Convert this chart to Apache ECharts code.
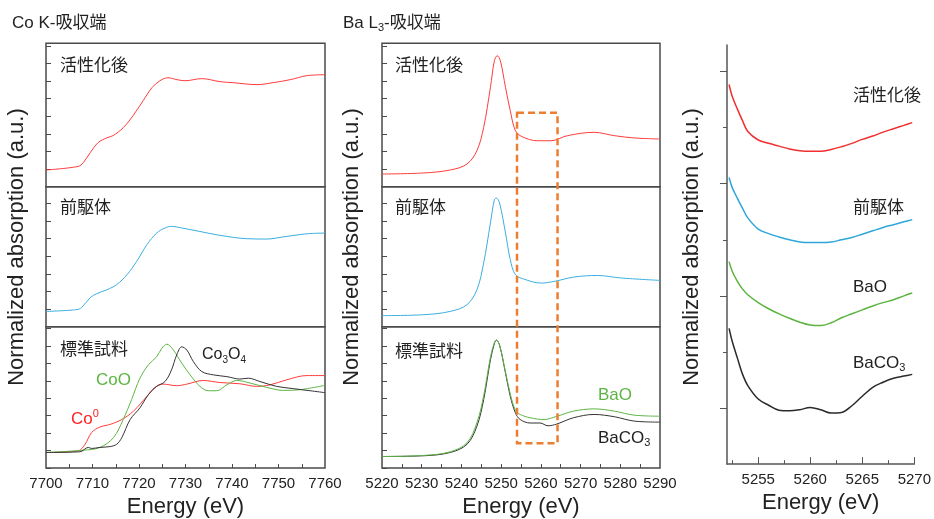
<!DOCTYPE html>
<html><head><meta charset="utf-8">
<script src="https://cdn.jsdelivr.net/npm/echarts@6/dist/echarts.min.js"></script>
<style>html,body{margin:0;padding:0;background:#fff}#c{width:934px;height:519px}</style>
</head><body><div id="c"></div>
<script>
// ---------- Co K-edge (left) ----------
const coActE = [7700, 7706.9, 7708.0, 7709.5, 7711.2, 7713.1, 7714.4, 7716.6, 7718.7, 7720.9, 7722.8, 7724.5, 7726.2, 7728.2, 7729.9, 7733.5, 7737.4, 7740.2, 7745.4, 7748.8, 7752.5, 7756.1, 7760];
const coActV = [0.95, 1.15, 1.36, 1.93, 2.5, 2.78, 2.9, 3.35, 4.03, 4.89, 5.63, 6.02, 6.19, 6.08, 6.02, 6.14, 5.97, 5.91, 5.8, 5.91, 6.08, 6.31, 6.36];
const coPreE = [7700, 7706.6, 7707.7, 7709.5, 7710.9, 7713.1, 7715.2, 7717.4, 7719.5, 7721.7, 7723.8, 7725.6, 7727.0, 7729.2, 7733.1, 7737.4, 7743.2, 7747.5, 7751.0, 7756.1, 7760];
const coPreV = [0.87, 0.97, 1.10, 1.65, 1.875, 2.10, 2.39, 2.95, 3.71, 4.66, 5.32, 5.61, 5.70, 5.61, 5.41, 5.19, 5.0, 4.98, 5.10, 5.28, 5.32];
const co3o4E = [7700, 7707.3, 7709.1, 7709.8, 7711.6, 7713.8, 7715.2, 7716.3, 7718.1, 7720.2, 7722.0, 7723.8, 7725.6, 7727.0, 7728.1, 7729.2, 7730.3, 7731.7, 7733.5, 7736.0, 7738.9, 7741.7, 7743.5, 7746.0, 7749.6, 7753.2, 7756.8, 7760];
const co3o4V = [0.89, 0.93, 1.18, 1.12, 1.18, 1.23, 1.36, 1.74, 2.78, 3.45, 4.20, 4.68, 4.96, 5.63, 6.48, 6.95, 6.76, 6.10, 5.53, 5.34, 5.24, 5.10, 5.15, 4.96, 4.68, 4.55, 4.43, 4.32];
const coOE = [7700, 7708.0, 7711.6, 7714.5, 7716.6, 7718.4, 7720.2, 7722.0, 7723.8, 7724.9, 7726.0, 7727.4, 7729.2, 7731.0, 7733.1, 7734.9, 7736.7, 7738.9, 7741.0, 7743.9, 7747.5, 7751.0, 7754.6, 7760];
const coOV = [0.89, 1.02, 1.18, 1.74, 2.78, 3.92, 5.15, 5.91, 6.38, 6.86, 7.10, 6.76, 6.01, 5.34, 4.68, 4.43, 4.43, 4.77, 5.02, 4.87, 4.62, 4.45, 4.49, 4.74];
const co0E = [7700, 7706.9, 7708.4, 7709.8, 7711.6, 7713.8, 7716.3, 7718.8, 7721.7, 7723.4, 7725.2, 7728.1, 7730.3, 7733.8, 7737.4, 7741.7, 7745.3, 7748.2, 7751.8, 7756.1, 7760];
const co0V = [0.89, 0.98, 1.36, 2.03, 2.35, 2.5, 2.78, 3.26, 4.11, 4.62, 4.81, 4.72, 4.81, 5.02, 4.90, 4.83, 4.68, 4.77, 5.06, 5.30, 5.30];

// ---------- Ba L3-edge (middle) ----------
const baActE = [5220, 5230.4, 5237.2, 5241.4, 5243.9, 5245.6, 5247.3, 5248.3, 5249.0, 5249.8, 5251.1, 5252.3, 5253.6, 5255.3, 5259.1, 5262.5, 5266.7, 5273.4, 5278.5, 5283.5, 5290];
const baActV = [0.72, 0.78, 0.95, 1.29, 2.05, 3.37, 5.64, 7.16, 7.44, 7.16, 5.64, 4.32, 3.18, 2.84, 2.61, 2.61, 2.9, 3.09, 2.9, 2.77, 2.71];
const baPreE = [5220, 5230.4, 5237.2, 5241.4, 5243.9, 5245.6, 5247.3, 5248.3, 5248.8, 5249.6, 5251.1, 5252.3, 5253.6, 5255.7, 5259.9, 5263.3, 5268.3, 5274.3, 5280.1, 5290];
const baPreV = [0.63, 0.68, 0.87, 1.25, 2.10, 3.62, 5.89, 7.22, 7.31, 7.03, 5.32, 3.81, 2.95, 2.71, 2.48, 2.57, 2.82, 2.91, 2.77, 2.63];
const baco3E = [5220, 5230.4, 5237.2, 5241.4, 5243.9, 5245.6, 5247.3, 5248.3, 5248.8, 5249.6, 5251.1, 5252.3, 5253.6, 5254.8, 5257.3, 5259.8, 5261.8, 5264.0, 5268.2, 5273.4, 5278.5, 5283.5, 5290];
const baco3V = [0.66, 0.70, 0.89, 1.36, 2.40, 3.92, 6.19, 7.14, 7.33, 7.05, 5.44, 4.11, 3.16, 2.78, 2.58, 2.58, 2.42, 2.52, 2.88, 3.07, 2.94, 2.69, 2.63];
const baoE = [5220, 5230.4, 5237.2, 5241.4, 5243.9, 5245.6, 5247.3, 5248.3, 5248.8, 5249.6, 5251.1, 5252.3, 5253.6, 5254.8, 5257.3, 5260.8, 5264.1, 5268.2, 5273.4, 5278.5, 5283.5, 5290];
const baoV = [0.66, 0.72, 0.93, 1.45, 2.6, 4.15, 6.35, 7.2, 7.33, 7.05, 5.5, 4.25, 3.31, 3.07, 2.88, 2.78, 2.97, 3.26, 3.39, 3.26, 3.03, 2.97];

// ---------- zoom (right) ----------
const zoomE = [5252.2, 5252.5, 5253, 5253.5, 5254, 5255, 5256, 5257, 5258, 5259, 5260, 5261, 5262, 5263, 5264, 5265, 5266, 5267, 5268, 5269, 5269.8];
const zActV = [6.77, 6.56, 6.33, 6.12, 5.93, 5.78, 5.72, 5.67, 5.62, 5.59, 5.58, 5.58, 5.61, 5.66, 5.72, 5.79, 5.85, 5.92, 5.98, 6.04, 6.09];
const zPreV = [5.11, 4.93, 4.74, 4.56, 4.39, 4.19, 4.11, 4.05, 4.0, 3.96, 3.95, 3.95, 3.96, 4.0, 4.04, 4.10, 4.16, 4.22, 4.27, 4.32, 4.36];
const zBaOV = [3.61, 3.44, 3.26, 3.12, 3.02, 2.88, 2.77, 2.68, 2.60, 2.53, 2.48, 2.47, 2.52, 2.61, 2.68, 2.75, 2.82, 2.88, 2.93, 3.0, 3.05];
const zBaCO3V = [2.42, 2.19, 1.89, 1.60, 1.40, 1.16, 1.05, 0.96, 0.95, 0.97, 1.01, 0.97, 0.91, 0.92, 1.04, 1.21, 1.37, 1.46, 1.53, 1.57, 1.60];

// ---------- ticks ----------
const coLabels = [7700, 7710, 7720, 7730, 7740, 7750, 7760];
const coTicks = [7705, 7710, 7715, 7720, 7725, 7730, 7735, 7740, 7745, 7750, 7755];
const baLabels = [5220, 5230, 5240, 5250, 5260, 5270, 5280, 5290];
const baTicks = [5225, 5230, 5235, 5240, 5245, 5250, 5255, 5260, 5265, 5270, 5275, 5280, 5285];
const zLabels = [5255, 5260, 5265, 5270];
const zMinorTicks = [5252.5, 5257.5, 5262.5, 5267.5];
const zYMajor = [1, 3, 5, 7];
const zYMinor = [2, 4, 6];
// dashed box: energies, top value (upper middle panel), bottom value (lower middle panel)
const boxE = [5254, 5264.2];
const boxYTop = 4.2;
const boxYBottom = 1.42;

const FONT = "'Liberation Sans','Noto Sans CJK JP',sans-serif";
const RED = '#ff3b3b', BLUE = '#3aaee0', GREEN = '#5cb544', BLACK = '#333333';
const zip = (a, b) => a.map((x, i) => [x, b[i]]);
const plain = v => String(v);

const chart = echarts.init(document.getElementById('c'), null, {renderer: 'canvas'});

const panelTops = [43.3, 186.7, 326.7];
const panelH = [143.4, 140, 142.6];
const unit = 17.6;
const grids = [];
[46, 382].forEach((l, c) => {
  panelTops.forEach((t, r) => {
    grids.push({left: l, top: t, width: c === 0 ? 279 : 278, height: panelH[r], show: true, borderColor: '#4a4a4a', borderWidth: 1.5, backgroundColor: 'transparent'});
  });
});
grids.push({left: 727, top: 45, width: 190, height: 426});

const xAxes = [], yAxes = [];
for (let c = 0; c < 2; c++) {
  for (let r = 0; r < 3; r++) {
    const g = c * 3 + r;
    const bottom = r === 2;
    xAxes.push({
      type: 'value', gridIndex: g, position: 'bottom',
      min: c === 0 ? 7700 : 5220, max: c === 0 ? 7760 : 5290,
      axisLine: {show: false}, splitLine: {show: false},
      axisTick: {show: bottom, inside: true, length: 4, lineStyle: {color: '#4a4a4a', width: 1}, customValues: c === 0 ? coTicks : baTicks},
      axisLabel: {show: bottom, customValues: c === 0 ? coLabels : baLabels, formatter: plain, color: '#222', fontSize: 15, fontFamily: FONT, margin: 8},
      name: bottom ? 'Energy (eV)' : '', nameLocation: 'middle', nameGap: 28,
      nameTextStyle: {fontSize: 22, fontFamily: FONT, color: '#222'}
    });
    yAxes.push({
      type: 'value', gridIndex: g, min: 0, max: panelH[r] / unit, interval: 1,
      axisLine: {show: false}, splitLine: {show: false}, axisLabel: {show: false},
      axisTick: {show: true, inside: true, length: 5, lineStyle: {color: '#4a4a4a', width: 1}}
    });
  }
}
// right panel axes
xAxes.push({
  type: 'value', gridIndex: 6, position: 'bottom', min: 5252, max: 5270,
  axisLine: {show: true, lineStyle: {color: '#555', width: 1.5}}, splitLine: {show: false},
  axisTick: {show: true, inside: true, length: 7, customValues: zLabels, lineStyle: {color: '#555', width: 1}},
  axisLabel: {customValues: zLabels, formatter: plain, color: '#222', fontSize: 15, fontFamily: FONT, margin: 8},
  name: 'Energy (eV)', nameLocation: 'middle', nameGap: 26,
  nameTextStyle: {fontSize: 22, fontFamily: FONT, color: '#222'}
});
xAxes.push({
  type: 'value', gridIndex: 6, position: 'bottom', min: 5252, max: 5270,
  axisLine: {show: false}, splitLine: {show: false}, axisLabel: {show: false},
  axisTick: {show: true, inside: true, length: 4, customValues: zMinorTicks, lineStyle: {color: '#555', width: 1}}
});
yAxes.push({
  type: 'value', gridIndex: 6, position: 'left', min: 0, max: 426 / 57,
  axisLine: {show: true, lineStyle: {color: '#555', width: 1.5}}, splitLine: {show: false}, axisLabel: {show: false},
  axisTick: {show: true, inside: false, length: 7, customValues: zYMajor, lineStyle: {color: '#555', width: 1}}
});
yAxes.push({
  type: 'value', gridIndex: 6, position: 'left', min: 0, max: 426 / 57,
  axisLine: {show: false}, splitLine: {show: false}, axisLabel: {show: false},
  axisTick: {show: true, inside: false, length: 4, customValues: zYMinor, lineStyle: {color: '#555', width: 1}}
});

function line(name, e, v, color, xi, yi, w) {
  return {name, type: 'line', xAxisIndex: xi, yAxisIndex: yi, data: zip(e, v), smooth: 0.35, symbol: 'none',
    lineStyle: {color, width: w || 1}, itemStyle: {color}, silent: true, animation: false};
}
const series = [
  line('Co 活性化後', coActE, coActV, RED, 0, 0),
  line('Co 前駆体', coPreE, coPreV, BLUE, 1, 1),
  line('Co0', co0E, co0V, RED, 2, 2),
  line('CoO', coOE, coOV, GREEN, 2, 2),
  line('Co3O4', co3o4E, co3o4V, BLACK, 2, 2),
  line('Ba 活性化後', baActE, baActV, RED, 3, 3),
  line('Ba 前駆体', baPreE, baPreV, BLUE, 4, 4),
  line('BaCO3', baco3E, baco3V, BLACK, 5, 5),
  line('BaO', baoE, baoV, GREEN, 5, 5),
  line('z 活性化後', zoomE, zActV, '#f03030', 6, 6, 1.5),
  line('z 前駆体', zoomE, zPreV, '#2ea6dc', 6, 6, 1.5),
  line('z BaO', zoomE, zBaOV, '#5ab43e', 6, 6, 1.5),
  line('z BaCO3', zoomE, zBaCO3V, '#2a2a2a', 6, 6, 1.5)
];

function txt(text, x, y, opts) {
  opts = opts || {};
  return {type: 'text', x, y, rotation: opts.rot || 0, silent: true, z: 100,
    style: {text, fill: opts.color || '#222', font: (opts.size || 17) + 'px ' + FONT,
      textAlign: opts.align || 'left', textVerticalAlign: 'middle', rich: opts.rich}};
}
function chem(fill, size) {
  return {
    a: {fontSize: size, fontFamily: FONT, fill: fill, color: fill, lineHeight: size + 4, verticalAlign: 'middle'},
    s: {fontSize: Math.round(size * 0.65), fontFamily: FONT, fill: fill, color: fill, verticalAlign: 'bottom', padding: [0, 0, 0, 0], lineHeight: size + 4},
    u: {fontSize: Math.round(size * 0.65), fontFamily: FONT, fill: fill, color: fill, verticalAlign: 'top', lineHeight: size + 4}
  };
}
const graphics = [
  txt('{a|Co K-吸収端}', 12, 23, {rich: chem('#222', 17)}),
  txt('{a|Ba L}{s|3}{a|-吸収端}', 343, 23, {rich: chem('#222', 17)}),
  txt('Normalized absorption (a.u.)', 17, 247, {size: 22, rot: Math.PI / 2, align: 'center'}),
  txt('Normalized absorption (a.u.)', 352, 247, {size: 22, rot: Math.PI / 2, align: 'center'}),
  txt('Normalized absorption (a.u.)', 692, 247, {size: 22, rot: Math.PI / 2, align: 'center'}),
  txt('活性化後', 60, 66), txt('前駆体', 60, 208), txt('標準試料', 60, 350),
  txt('活性化後', 395, 66), txt('前駆体', 395, 208), txt('標準試料', 395, 352),
  txt('{a|Co}{s|3}{a|O}{s|4}', 202, 355, {rich: chem('#222', 16)}),
  txt('{a|CoO}', 96, 380, {rich: chem(GREEN, 17)}),
  txt('{a|Co}{u|0}', 71, 419, {rich: chem('#ff2020', 17)}),
  txt('{a|BaO}', 598, 395, {rich: chem(GREEN, 17)}),
  txt('{a|BaCO}{s|3}', 598, 438, {rich: chem('#222', 17)}),
  txt('活性化後', 853, 96), txt('前駆体', 853, 208),
  txt('{a|BaO}', 853, 287, {rich: chem('#222', 17)}),
  txt('{a|BaCO}{s|3}', 853, 363, {rich: chem('#222', 17)})
];

chart.setOption({
  animation: false,
  textStyle: {fontFamily: FONT},
  grid: grids, xAxis: xAxes, yAxis: yAxes, series: series, graphic: graphics
});

// dashed box across the three middle panels, positioned through the axes
const bx1 = chart.convertToPixel({xAxisIndex: 5}, boxE[0]);
const bx2 = chart.convertToPixel({xAxisIndex: 5}, boxE[1]);
const by1 = chart.convertToPixel({yAxisIndex: 3}, boxYTop);
const by2 = chart.convertToPixel({yAxisIndex: 5}, boxYBottom);
chart.setOption({graphic: graphics.concat([{
  type: 'rect', silent: true, z: 90,
  shape: {x: bx1, y: by1, width: bx2 - bx1, height: by2 - by1},
  style: {fill: 'none', stroke: '#ed7d31', lineWidth: 2.5, lineDash: [7, 4]}
}])});
</script></body></html>
